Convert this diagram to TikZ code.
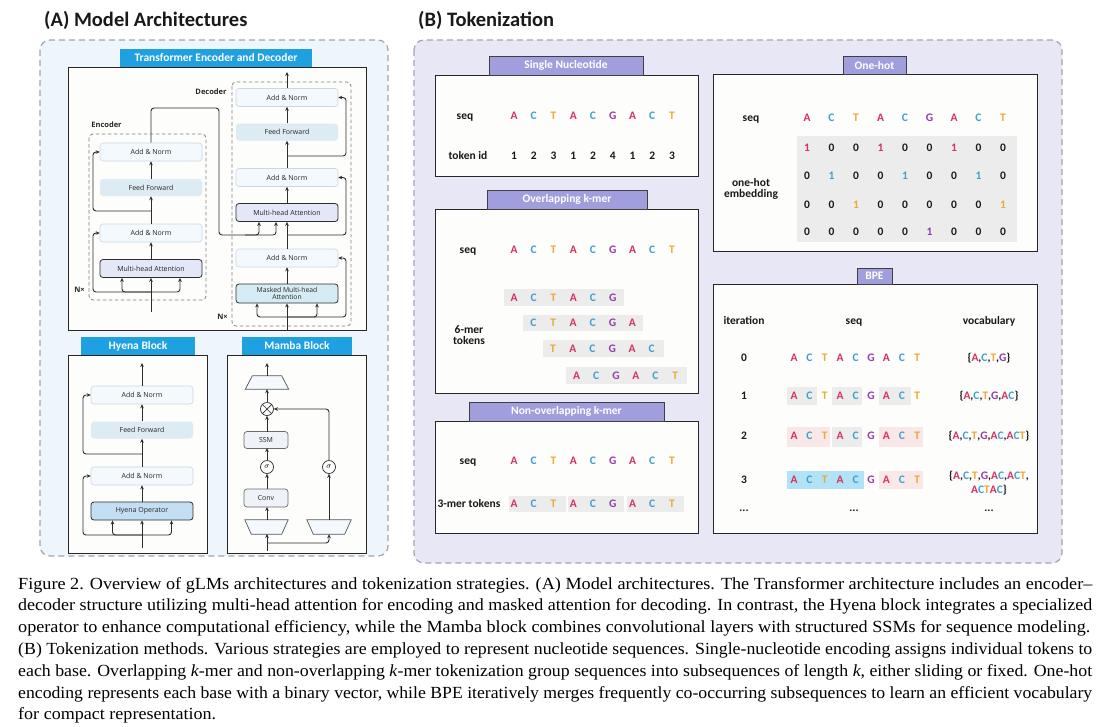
\documentclass[tikz,border=0pt]{standalone}
\usepackage{fontspec}
\usepackage{graphicx}
\usetikzlibrary{arrows.meta,shapes.geometric,calc}
\newfontfamily\carl{Carlito}
\newfontfamily\osans{Open Sans}
\newfontfamily\capfont[Ligatures=TeX]{Liberation Serif}
\definecolor{cA}{RGB}{214,48,96}
\definecolor{cC}{RGB}{62,160,208}
\definecolor{cT}{RGB}{238,168,52}
\definecolor{cG}{RGB}{150,58,172}
\definecolor{colPanA}{RGB}{238,246,252}
\definecolor{colPanB}{RGB}{231,231,246}
\definecolor{colPanBorder}{RGB}{165,165,165}
\definecolor{colTabA}{RGB}{30,160,225}
\definecolor{colTabB}{RGB}{160,158,220}
\definecolor{anfill}{RGB}{243,249,253}
\definecolor{anborder}{RGB}{200,215,228}
\definecolor{fffill}{RGB}{220,236,242}
\definecolor{mhafill}{RGB}{228,231,248}
\definecolor{mmhafill}{RGB}{214,236,244}
\definecolor{hyfill}{RGB}{196,223,243}
\definecolor{ssmfill}{RGB}{240,242,250}
\definecolor{lnk}{RGB}{45,45,45}
\definecolor{kgray}{RGB}{236,236,236}
\definecolor{kpink}{RGB}{250,232,232}
\definecolor{kcyan}{RGB}{178,226,246}
\definecolor{boxfill}{RGB}{253,253,251}
\newcommand\nuc[1]{\textcolor{c#1}{#1}}
\newcommand\vA{\textcolor{cA}{A}}
\newcommand\vC{\textcolor{cC}{C}}
\newcommand\vT{\textcolor{cT}{T}}
\newcommand\vG{\textcolor{cG}{G}}
\newcommand\ohA{\textcolor{cA}{1}}
\newcommand\ohC{\textcolor{cC}{1}}
\newcommand\ohT{\textcolor{cT}{1}}
\newcommand\ohG{\textcolor{cG}{1}}
\newcommand\seqrow[5]{\foreach \lt [count=\ii from 0] in {#5} {\node[nt] (#4\ii) at ({#1+\ii*#2},#3) {\nuc{\lt}};}}
\newcommand\capline[4]{\node[anchor=base west, inner sep=0] (#1) at (18,#2) {\resizebox{#3}{12.75pt}{\capfont\fontsize{17}{17}\selectfont\rule{0pt}{0.75em}#4}};}
\begin{document}
\begin{tikzpicture}[x=1pt,y=-1pt,
 blk/.style={font=\osans\fontsize{7}{8}\selectfont, text=black!85, inner sep=0, minimum width=102, rounded corners=3},
 an/.style={blk, fill=anfill, draw=anborder, line width=0.6, minimum height=18},
 ff/.style={blk, fill=fffill, minimum height=17},
 mha/.style={blk, fill=mhafill, draw=lnk, line width=0.8, minimum height=18},
 mmha/.style={blk, fill=mmhafill, draw=lnk, line width=0.8, minimum height=19, align=center, font=\osans\fontsize{6.8}{7.6}\selectfont},
 hyop/.style={blk, fill=hyfill, draw=lnk, line width=0.8, minimum height=18},
 sbox/.style={blk, fill=ssmfill, draw=lnk!70, line width=0.7, minimum width=44, minimum height=17},
 trap/.style={fill=anfill, draw=lnk!80, line width=0.7},
 circ/.style={circle, draw=lnk, line width=0.7, fill=white, minimum size=13, inner sep=0, font=\fontsize{8}{8}\selectfont},
 arr/.style={draw=lnk, line width=0.9, -{Stealth[length=4pt,width=3.6pt]}},
 ln/.style={draw=lnk, line width=0.9},
 rc/.style={rounded corners=3},
 dbox/.style={draw=black!50, line width=0.8, dash pattern=on 3.5pt off 2.5pt, rounded corners=4},
 tabA/.style={fill=colTabA, text=white, font=\carl\bfseries\fontsize{11.5}{12}\selectfont, inner sep=0, minimum height=18},
 tabB/.style={fill=colTabB, draw=black!75, line width=0.8, text=white, font=\carl\bfseries\fontsize{11.5}{12}\selectfont, inner sep=0, minimum height=19},
 cbox/.style={fill=boxfill, draw=black!85, line width=1},
 nt/.style={font=\carl\bfseries\fontsize{11.5}{12}\selectfont, inner sep=0, text height=7.5pt, text depth=0pt},
 lbl/.style={nt, text=black!90},
 sublbl/.style={font=\osans\bfseries\fontsize{7.5}{8}\selectfont, inner sep=0, text=black!85},
 panel/.style={draw=colPanBorder, line width=1.2, dash pattern=on 6pt off 4pt, rounded corners=10},
 title/.style={font=\carl\bfseries\fontsize{20.5}{22}\selectfont, inner sep=0, anchor=west, text=black!90}
]
\useasboundingbox (0,0) rectangle (1108,726);
\fill[white] (0,0) rectangle (1108,726);

% ---------- titles ----------
\node[title] (tA) at (44,20) {(A) Model Architectures};
\node[title] (tB) at (418,20) {(B) Tokenization};

% ---------- panels ----------
\draw[panel, fill=colPanA] (40,40) rectangle (388,556);
\draw[panel, fill=colPanB] (414,40) rectangle (1062,563);

% ---------- Transformer ----------
\draw[cbox] (68,67) rectangle (366,330);
\node[tabA, minimum width=192] (tabT) at (216,58) {Transformer Encoder and Decoder};
\draw[dbox] (89,134) rectangle (206,300);
\draw[dbox] (232,82) rectangle (351,326);
\node[sublbl] (encL) at (106.5,125) {Encoder};
\node[sublbl] (decL) at (211,92) {Decoder};
\node[sublbl] (encN) at (79.5,290) {N×};
\node[sublbl] (decN) at (222.5,317) {N×};

\node[an] (eA2) at (151,152) {Add \& Norm};
\node[ff] (eF) at (151,187.5) {Feed Forward};
\node[an] (eA1) at (151,233) {Add \& Norm};
\node[mha] (eM) at (151,268.5) {Multi-head Attention};
\coordinate (eIn) at (151,312);
\coordinate (eB1) at (151,292);
\coordinate (eB2) at (151,211);
\coordinate (eTop) at (151,108);

\draw[arr] (eIn) -- (eM.south);
\draw[arr,rc] (eB1) -| ([xshift=-29pt]eM.south);
\draw[arr,rc] (eB1) -| ([xshift=29pt]eM.south);
\draw[arr,rc] (eB1) -| (93,233) -- (eA1.west);
\draw[arr] (eM) -- (eA1);
\draw[arr] (eA1) -- (eF);
\draw[arr,rc] (eB2) -| (93,152) -- (eA2.west);
\draw[arr] (eF) -- (eA2);

\node[an] (dA3) at (287,97.5) {Add \& Norm};
\node[ff] (dF) at (287,132) {Feed Forward};
\node[an] (dA2) at (287,177.5) {Add \& Norm};
\node[mha] (dM) at (287,212.5) {Multi-head Attention};
\node[an] (dA1) at (287,258) {Add \& Norm};
\node[mmha] (dMM) at (287,293.5) {Masked Multi-head\\Attention};
\coordinate (dIn) at (287,330);
\coordinate (dB1) at (287,317);
\coordinate (dB2) at (287,235);
\coordinate (dB3) at (287,156);
\coordinate (dOut) at (287,72);

\draw[arr,rc] (eA2.north) -- (eTop) -- (219,108) -- (219,235) -| ([xshift=-28pt]dM.south);
\draw[arr,rc] (245,235) -| ([xshift=-11pt]dM.south);

\draw[arr] (dIn) -- (dMM.south);
\draw[arr,rc] (dB1) -| ([xshift=-30pt]dMM.south);
\draw[arr,rc] (dB1) -| ([xshift=30pt]dMM.south);
\draw[arr,rc] (dB1) -| (346,258) -- (dA1.east);
\draw[arr] (dMM) -- (dA1);
\draw[arr] (dA1) -- (dM);
\draw[arr,rc] (dB2) -| (346,177.5) -- (dA2.east);
\draw[arr] (dM) -- (dA2);
\draw[arr] (dA2) -- (dF);
\draw[arr,rc] (dB3) -| (346,97.5) -- (dA3.east);
\draw[arr] (dF) -- (dA3);
\draw[arr] (dA3) -- (dOut);

% ---------- Hyena ----------
\draw[cbox] (68,355) rectangle (207,553);
\node[tabA, minimum width=114] (tabH) at (138,346) {Hyena Block};
\node[an] (hA2) at (142,395) {Add \& Norm};
\node[ff] (hF) at (142,430) {Feed Forward};
\node[an] (hA1) at (142,476) {Add \& Norm};
\node[hyop] (hO) at (142,511) {Hyena Operator};
\coordinate (hIn) at (142,548);
\coordinate (hB1) at (142,535);
\coordinate (hB2) at (142,454);
\coordinate (hOut) at (142,363);
\draw[arr] (hIn) -- (hO.south);
\draw[arr,rc] (hB1) -| ([xshift=-29.5pt]hO.south);
\draw[arr,rc] (hB1) -| ([xshift=29.5pt]hO.south);
\draw[arr,rc] (hB1) -| (83,476) -- (hA1.west);
\draw[arr] (hO) -- (hA1);
\draw[arr] (hA1) -- (hF);
\draw[arr,rc] (hB2) -| (83,395) -- (hA2.west);
\draw[arr] (hF) -- (hA2);
\draw[arr] (hA2) -- (hOut);

% ---------- Mamba ----------
\draw[cbox] (227,355) rectangle (366,553);
\node[tabA, minimum width=110] (tabM) at (297,346) {Mamba Block};
\node[minimum width=43, minimum height=13, inner sep=0] (trT) at (267,382.5) {};
\node[minimum width=43, minimum height=14, inner sep=0] (trL) at (266.5,527) {};
\node[minimum width=44, minimum height=14, inner sep=0] (trR) at (329,527) {};
\draw[trap] ($(trT.north west)+(7,0)$) -- ($(trT.north east)+(-7,0)$) -- (trT.south east) -- (trT.south west) -- cycle;
\draw[trap] (trL.north west) -- (trL.north east) -- ($(trL.south east)+(-6.5,0)$) -- ($(trL.south west)+(6.5,0)$) -- cycle;
\draw[trap] (trR.north west) -- (trR.north east) -- ($(trR.south east)+(-6.5,0)$) -- ($(trR.south west)+(6.5,0)$) -- cycle;
\node[circ] (ot) at (267,409) {};
\draw[lnk, line width=0.7] (ot.north east) -- (ot.south west) (ot.north west) -- (ot.south east);
\node[circ] (s1) at (267,467) {$\sigma$};
\node[circ] (s2) at (329,467) {$\sigma$};
\node[sbox] (ssm) at (266,440) {SSM};
\node[sbox, minimum height=18] (conv) at (266,498) {Conv};
\coordinate (mIn) at (267,551);
\coordinate (mB) at (267,543);
\coordinate (mOut) at (267,363);
\draw[arr] (mIn) -- (267,534);
\draw[arr,rc] (mB) -| (trR.south);
\draw[arr] (267,520) -- (267,507);
\draw[arr] (267,489) -- (s1.south);
\draw[arr] (s1.north) -- (267,448);
\draw[arr] (267,432) -- (ot.south);
\draw[arr] (ot.north) -- (trT.south);
\draw[arr] (trT.north) -- (mOut);
\draw[arr] (trR.north) -- (s2.south);
\draw[arr,rc] (s2.north) |- (ot.east);

% ---------- Single nucleotide ----------
\draw[cbox] (435,75) rectangle (698,176);
\node[tabB, minimum width=154] (tabSN) at (566,65.5) {Single Nucleotide};
\node[lbl] (snSeq) at (465,116) {seq};
\node[lbl] (snTok) at (468,156) {token id};
\seqrow{514}{19.75}{116}{sn}{A,C,T,A,C,G,A,C,T}
\foreach \d [count=\ii from 0] in {1,2,3,1,2,4,1,2,3} {\node[lbl] (sid\ii) at ({514+\ii*19.75},156) {\d};}

% ---------- One-hot ----------
\draw[cbox] (713,74) rectangle (1037,251);
\node[tabB, minimum width=63, minimum height=18] (tabOH) at (874.5,65.5) {One-hot};
\node[lbl] (ohSeq) at (751,118) {seq};
\node[lbl, align=center, text height=, text depth=] (ohEmb) at (751,188.5) {one-hot\\[-1pt]embedding};
\seqrow{807}{24.5}{118}{oh}{A,C,T,A,C,G,A,C,T}
\fill[kgray] (797,136) rectangle (1017,242);
\foreach \d [count=\ii from 0] in {\ohA,0,0,\ohA,0,0,\ohA,0,0} {\node[lbl] (ohr1\ii) at ({807+\ii*24.5},148) {\d};}
\foreach \d [count=\ii from 0] in {0,\ohC,0,0,\ohC,0,0,\ohC,0} {\node[lbl] (ohr2\ii) at ({807+\ii*24.5},176) {\d};}
\foreach \d [count=\ii from 0] in {0,0,\ohT,0,0,0,0,0,\ohT} {\node[lbl] (ohr3\ii) at ({807+\ii*24.5},205) {\d};}
\foreach \d [count=\ii from 0] in {0,0,0,0,0,\ohG,0,0,0} {\node[lbl] (ohr4\ii) at ({807+\ii*24.5},232) {\d};}

% ---------- Overlapping k-mer ----------
\draw[cbox] (435,209) rectangle (698,393);
\node[tabB, minimum width=160] (tabOK) at (567,199.5) {Overlapping k-mer};
\node[lbl] (okSeq) at (468,250) {seq};
\seqrow{514}{19.75}{250}{ok}{A,C,T,A,C,G,A,C,T}
\node[lbl, align=center, text height=, text depth=] (okTok) at (469,335) {6-mer\\[-1pt]tokens};
\fill[kgray] (504,289) rectangle (624,306);
\fill[kgray] (523,315) rectangle (643,331);
\fill[kgray] (543,340) rectangle (664,357);
\fill[kgray] (566,367) rectangle (687,384);
\seqrow{514}{19.75}{297.5}{okA}{A,C,T,A,C,G}
\seqrow{533.5}{19.75}{323}{okB}{C,T,A,C,G,A}
\seqrow{553}{19.75}{348.5}{okC}{T,A,C,G,A,C}
\seqrow{576.5}{19.75}{375.5}{okD}{A,C,G,A,C,T}

% ---------- Non-overlapping k-mer ----------
\draw[cbox] (435,421) rectangle (698,533);
\node[tabB, minimum width=195] (tabNK) at (566.5,411.5) {Non-overlapping k-mer};
\node[lbl] (nkSeq) at (468,461) {seq};
\seqrow{514}{19.75}{461}{nk}{A,C,T,A,C,G,A,C,T}
\node[lbl] (nkTok) at (469,504) {3-mer tokens};
\fill[kgray] (509,496) rectangle (566,512);
\fill[kgray] (568,496) rectangle (624,512);
\fill[kgray] (627,496) rectangle (684,512);
\seqrow{514}{19.75}{504}{nkt}{A,C,T,A,C,G,A,C,T}

% ---------- BPE ----------
\draw[cbox] (713,284) rectangle (1037,533);
\node[tabB, minimum width=35, minimum height=16] (tabBPE) at (874.5,276) {BPE};
\node[lbl] (bIt) at (744,321) {iteration};
\node[lbl] (bSeq) at (854,321) {seq};
\node[lbl] (bVoc) at (989,321) {vocabulary};
\fill[kgray] (787,387) rectangle (817,405);
\fill[kgray] (832,387) rectangle (862,405);
\fill[kgray] (879,387) rectangle (911,405);
\fill[kpink] (787,427) rectangle (830,447);
\fill[kgray] (832,427) rectangle (862,447);
\fill[kpink] (879,427) rectangle (923,447);
\fill[kcyan] (787,471) rectangle (864,489);
\fill[kpink] (879,471) rectangle (923,489);
\foreach \y/\n [count=\rr from 0] in {358/0,396/1,436/2,480/3} {
  \node[lbl] (bi\rr) at (744,\y) {\n};
  \seqrow{794}{15.4}{\y}{bs\rr}{A,C,T,A,C,G,A,C,T}
}
\node[lbl] (bv0) at (989,358) {\{\vA,\vC,\vT,\vG\}};
\node[lbl] (bv1) at (989,396) {\{\vA,\vC,\vT,\vG,\vA\vC\}};
\node[lbl] (bv2) at (989,436) {\{\vA,\vC,\vT,\vG,\vA\vC,\vA\vC\vT\}};
\node[lbl] (bv3) at (989,476) {\{\vA,\vC,\vT,\vG,\vA\vC,\vA\vC\vT,};
\node[lbl] (bv3b) at (989,490) {\vA\vC\vT\vA\vC\}};
\node[lbl] (bd1) at (744,508) {...};
\node[lbl] (bd2) at (854,508) {...};
\node[lbl] (bd3) at (989,508) {...};

% ---------- caption ----------
\capline{c1}{589}{1074pt}{Figure 2. Overview of gLMs architectures and tokenization strategies. (A) Model architectures. The Transformer architecture includes an encoder–}
\capline{c2}{610.8}{1074pt}{decoder structure utilizing multi-head attention for encoding and masked attention for decoding. In contrast, the Hyena block integrates a specialized}
\capline{c3}{632.6}{1072pt}{operator to enhance computational efficiency, while the Mamba block combines convolutional layers with structured SSMs for sequence modeling.}
\capline{c4}{654.4}{1074pt}{(B) Tokenization methods. Various strategies are employed to represent nucleotide sequences. Single-nucleotide encoding assigns individual tokens to}
\capline{c5}{676.2}{1074pt}{each base. Overlapping \textit{k}-mer and non-overlapping \textit{k}-mer tokenization group sequences into subsequences of length \textit{k}, either sliding or fixed. One-hot}
\capline{c6}{698}{1074pt}{encoding represents each base with a binary vector, while BPE iteratively merges frequently co-occurring subsequences to learn an efficient vocabulary}
\capline{c7}{719.8}{198pt}{for compact representation.}
\end{tikzpicture}
\end{document}
